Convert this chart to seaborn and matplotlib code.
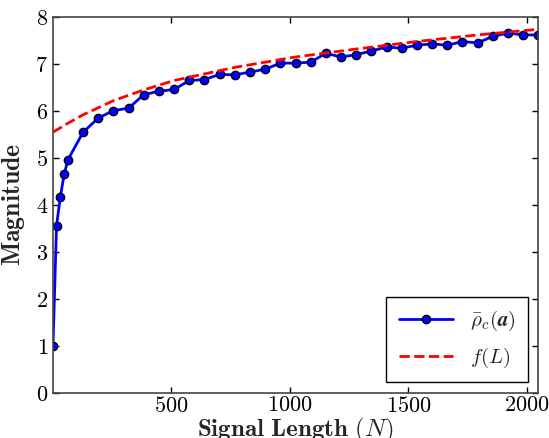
import matplotlib
matplotlib.use("Agg")
import matplotlib.pyplot as plt
import seaborn as sns

# measured average magnitude vs signal length
signal_len = [1, 16, 32, 48, 64, 128, 192, 256, 320, 384, 448, 512, 576, 640,
              704, 768, 832, 896, 960, 1024, 1088, 1152, 1216, 1280, 1344,
              1408, 1472, 1536, 1600, 1664, 1728, 1792, 1856, 1920, 1984, 2048]
rho_bar = [1.00, 3.56, 4.17, 4.65, 4.96, 5.55, 5.85, 6.01, 6.06, 6.35, 6.42,
           6.46, 6.65, 6.67, 6.78, 6.77, 6.83, 6.89, 7.02, 7.02, 7.04, 7.23,
           7.15, 7.20, 7.28, 7.36, 7.34, 7.40, 7.43, 7.40, 7.48, 7.45, 7.59,
           7.66, 7.62, 7.62]

# bound curve f(L)
bound_len = [1, 64, 128, 256, 384, 512, 640, 768, 896, 1024, 1280, 1536,
             1792, 2048]
bound_val = [5.55, 5.74, 5.92, 6.22, 6.45, 6.65, 6.79, 6.93, 7.04, 7.15,
             7.32, 7.48, 7.62, 7.74]

sns.set_style("ticks")
plt.rcParams["font.family"] = ["cmr10", "DejaVu Sans"]
plt.rcParams["mathtext.fontset"] = "cm"
plt.rcParams["axes.formatter.use_mathtext"] = True
plt.rcParams["xtick.direction"] = "in"
plt.rcParams["ytick.direction"] = "in"

fig = plt.figure(figsize=(5.49, 4.38), dpi=100)
ax = fig.add_axes([0.0965, 0.103, 0.884, 0.858])

sns.lineplot(x=signal_len, y=rho_bar, ax=ax, color="#0000ff", lw=2,
             marker="o", markersize=6, markerfacecolor="#0000ff",
             markeredgecolor="black", markeredgewidth=1,
             label=r"$\bar{\rho}_c(\boldsymbol{a})$")
sns.lineplot(x=bound_len, y=bound_val, ax=ax, color="red", lw=2,
             linestyle="--", label=r"$f(L)$")

ax.set_xlim(1, 2048)
ax.set_ylim(0, 8)
ax.set_xticks([500, 1000, 1500, 2000])
ax.set_yticks(range(0, 9))
ax.tick_params(top=True, right=True, labelsize=16, length=4, width=1,
               colors="black")
ax.tick_params(axis="x", pad=2)
for s in ax.spines.values():
    s.set_color("#444444")
    s.set_linewidth(1.2)

ax.set_xlabel(r"$\mathbf{Signal\ Length}\ \mathbf{(}N\mathbf{)}$",
              fontsize=18, labelpad=0)
ax.set_ylabel(r"$\mathbf{Magnitude}$", fontsize=18.5, labelpad=6)

leg = ax.legend(loc="lower right", fontsize=15, fancybox=False,
                framealpha=1, edgecolor="black", handlelength=2.6,
                borderpad=0.6, labelspacing=0.6)
leg.get_frame().set_linewidth(1)

fig.savefig("out.png", dpi=100)
